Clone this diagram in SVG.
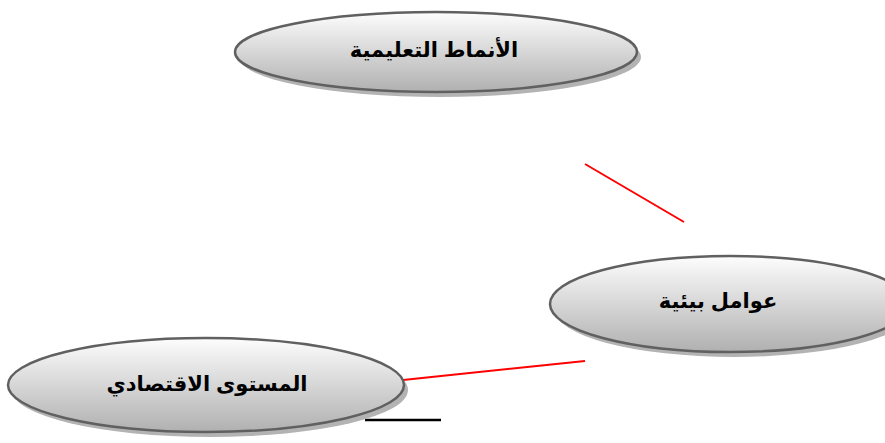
<svg xmlns="http://www.w3.org/2000/svg" width="885" height="443" viewBox="0 0 885 443">
<style>
.sh{fill:#b3b3b3;}
.el{fill:url(#g);stroke:#606060;stroke-width:2.5;}
.t{font-family:"Liberation Sans","DejaVu Sans",sans-serif;font-weight:bold;font-size:21px;fill:#000;text-anchor:middle;}
.red{stroke:#ff0000;stroke-width:2;fill:none;}
</style>
<defs>
<linearGradient id="g" x1="0" y1="0" x2="0" y2="1">
<stop offset="0" stop-color="#fdfdfd"/>
<stop offset="1" stop-color="#b0b0b0"/>
</linearGradient>
</defs>
<g id="connectors">
<line class="red" x1="585" y1="164" x2="684" y2="222"/>
<line class="red" x1="403" y1="380" x2="585" y2="361"/>
<line x1="365" y1="420" x2="441" y2="420" stroke="#000" stroke-width="2.5"/>
</g>
<g id="node-top">
<ellipse class="sh" cx="440" cy="57" rx="201" ry="40"/>
<ellipse class="el" cx="436" cy="52" rx="201" ry="40"/>
<text class="t" x="434" y="57" direction="rtl">الأنماط التعليمية</text>
</g>
<g id="node-env">
<ellipse class="sh" cx="734" cy="309" rx="180" ry="48"/>
<ellipse class="el" cx="730" cy="304" rx="180" ry="48"/>
<text class="t" x="718" y="308" direction="rtl">عوامل بيئية</text>
</g>
<g id="node-econ">
<ellipse class="sh" cx="210" cy="390" rx="198" ry="47"/>
<ellipse class="el" cx="206" cy="385" rx="198" ry="47"/>
<text class="t" x="207" y="391" direction="rtl">المستوى الاقتصادي</text>
</g>
</svg>
